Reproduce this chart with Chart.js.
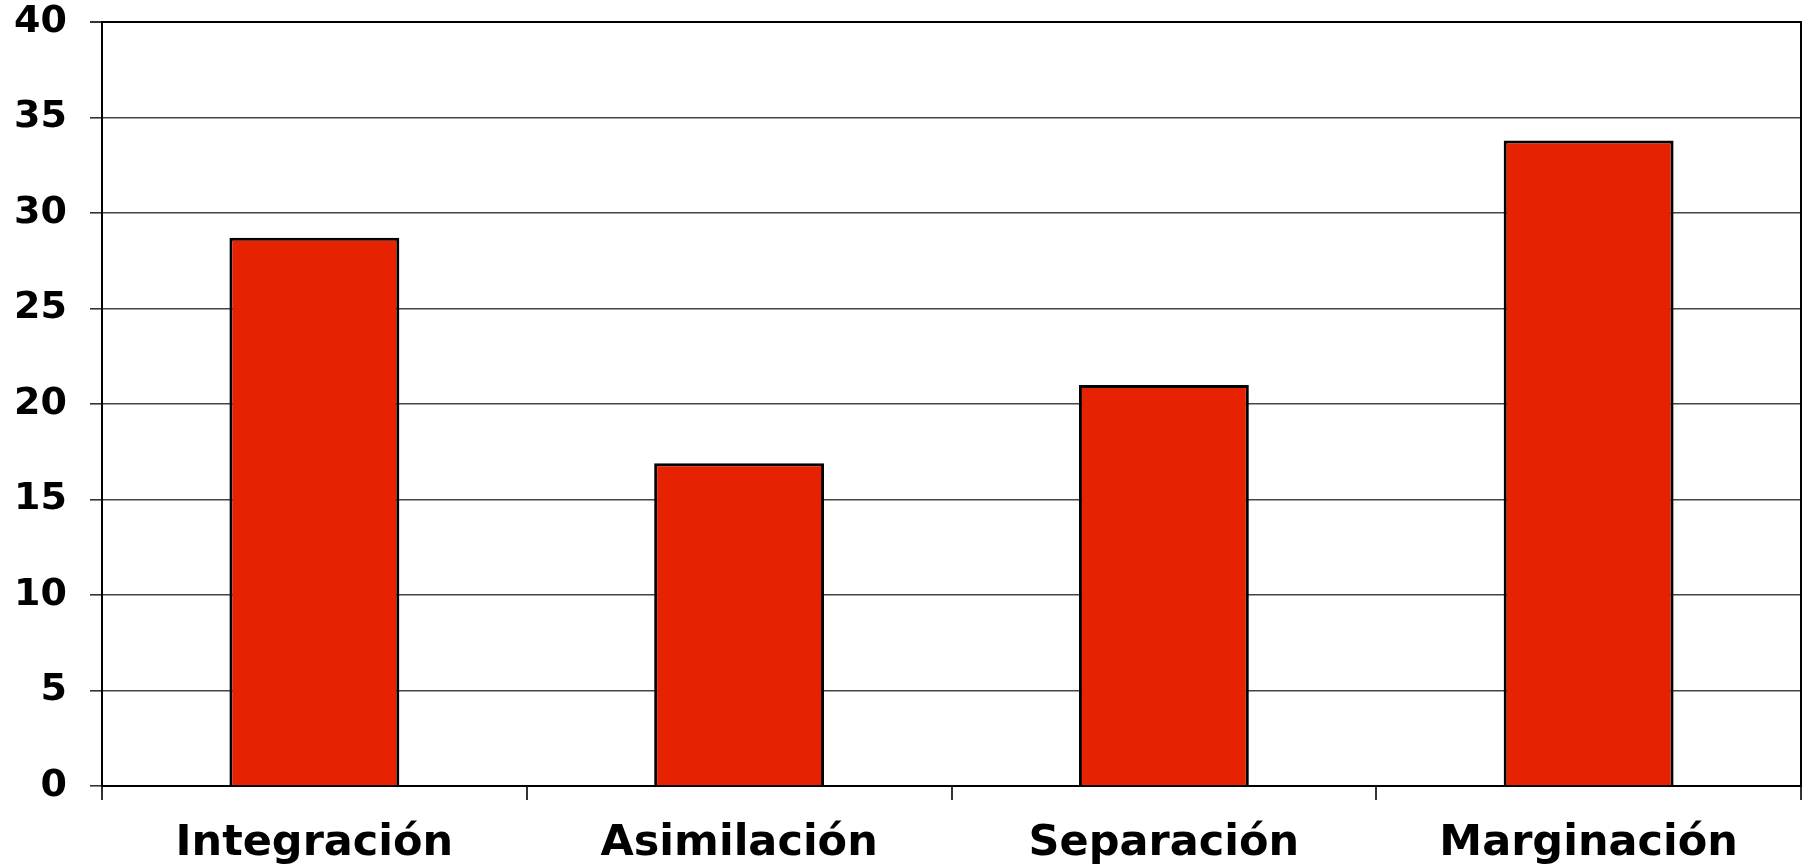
<!DOCTYPE html>
<html>
<head>
<meta charset="utf-8">
<script src="https://cdn.jsdelivr.net/npm/chart.js@4/dist/chart.umd.min.js"></script>
<style>
  html, body { margin: 0; padding: 0; background: #fff; }
  #wrap { width: 1802px; height: 867px; }
</style>
</head>
<body>
<div id="wrap"><canvas id="myChart" width="1802" height="867"></canvas></div>
<script>
// categories and values
const categories = ['Integración', 'Asimilación', 'Separación', 'Marginación'];
const values = [28.7, 16.9, 21.0, 33.8];
const yTicks = [0, 5, 10, 15, 20, 25, 30, 35, 40];

const FONT = 'Verdana, "DejaVu Sans", sans-serif';

const ctx = document.getElementById('myChart').getContext('2d');
new Chart(ctx, {
  type: 'bar',
  data: {
    labels: categories,
    datasets: [{
      data: values,
      backgroundColor: '#e62200',
      borderColor: '#000',
      borderWidth: 3,
      categoryPercentage: 0.8,
      barPercentage: 0.5
    }]
  },
  options: {
    responsive: false,
    animation: false,
    layout: { padding: { top: 22, right: 1, left: 0, bottom: 0 } },
    plugins: {
      legend: { display: false },
      tooltip: { enabled: false }
    },
    scales: {
      x: {
        grid: {
          offset: true,
          drawOnChartArea: false,
          drawTicks: true,
          tickLength: 14,
          color: '#333',
          lineWidth: 2
        },
        border: { color: '#000', width: 2 },
        ticks: {
          color: '#000',
          padding: 18,
          font: { family: FONT, size: 43, weight: 'bold' }
        },
        afterFit: (scale) => { scale.height = 81; }
      },
      y: {
        min: 0,
        max: 40,
        afterBuildTicks: (scale) => { scale.ticks = yTicks.map(v => ({ value: v })); },
        grid: {
          color: (c) => c.tick && c.tick.value === 40 ? '#000' : '#444',
          lineWidth: (c) => c.tick && c.tick.value === 40 ? 2 : 1.6,
          tickColor: '#333',
          tickLength: 12
        },
        border: { color: '#000', width: 2 },
        ticks: {
          color: '#000',
          padding: 23,
          font: { family: FONT, size: 38, weight: 'bold' }
        },
        afterFit: (scale) => {
          scale.width = 102;
          scale.paddingTop = 0;
          scale.paddingBottom = 0;
        }
      },
      yRight: {
        position: 'right',
        min: 0,
        max: 40,
        ticks: { display: false },
        grid: { drawOnChartArea: false, drawTicks: false },
        border: { color: '#000', width: 2 }
      }
    }
  }
});
</script>
</body>
</html>
